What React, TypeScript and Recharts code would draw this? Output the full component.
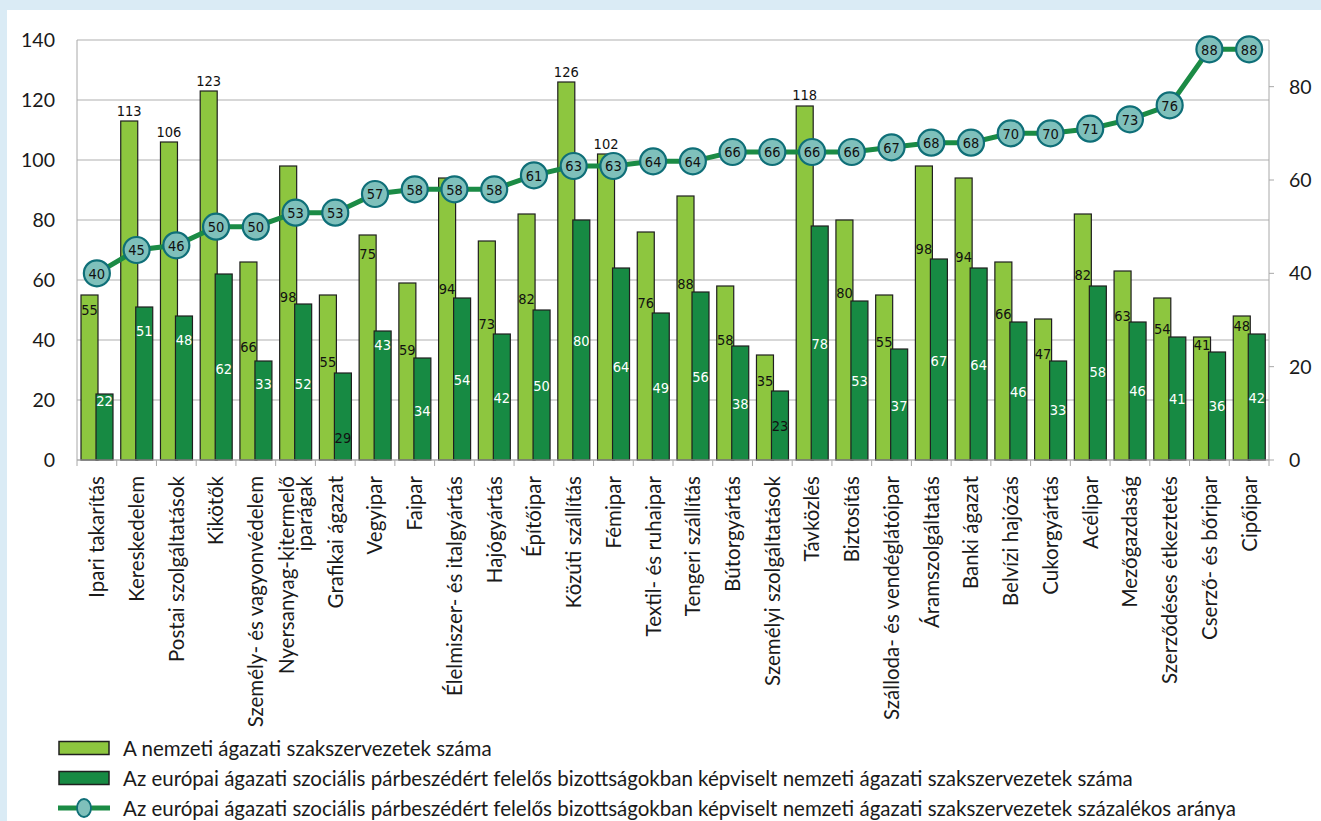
import React from "react";
import { ComposedChart, Bar, Line, XAxis, YAxis, CartesianGrid } from "recharts";

const categories = [
  "Ipari takarítás",
  "Kereskedelem",
  "Postai szolgáltatások",
  "Kikötők",
  "Személy- és vagyonvédelem",
  "Nyersanyag-kitermelő\niparágak",
  "Grafikai ágazat",
  "Vegyipar",
  "Faipar",
  "Élelmiszer- és italgyártás",
  "Hajógyártás",
  "Építőipar",
  "Közúti szállítás",
  "Fémipar",
  "Textil- és ruhaipar",
  "Tengeri szállítás",
  "Bútorgyártás",
  "Személyi szolgáltatások",
  "Távközlés",
  "Biztosítás",
  "Szálloda- és vendéglátóipar",
  "Áramszolgáltatás",
  "Banki ágazat",
  "Belvízi hajózás",
  "Cukorgyártás",
  "Acélipar",
  "Mezőgazdaság",
  "Szerződéses étkeztetés",
  "Cserző- és bőripar",
  "Cipőipar",
];

const nationalUnions = [55, 113, 106, 123, 66, 98, 55, 75, 59, 94, 73, 82, 126, 102, 76, 88, 58, 35, 118, 80, 55, 98, 94, 66, 47, 82, 63, 54, 41, 48];
const representedUnions = [22, 51, 48, 62, 33, 52, 29, 43, 34, 54, 42, 50, 80, 64, 49, 56, 38, 23, 78, 53, 37, 67, 64, 46, 33, 58, 46, 41, 36, 42];
const representedShare = [40, 45, 46, 50, 50, 53, 53, 57, 58, 58, 58, 61, 63, 63, 64, 64, 66, 66, 66, 66, 67, 68, 68, 70, 70, 71, 73, 76, 88, 88];

const leftTicks = [0, 20, 40, 60, 80, 100, 120, 140];
const rightTicks = [0, 20, 40, 60, 80];

const legendLabels = [
  "A nemzeti ágazati szakszervezetek száma",
  "Az európai ágazati szociális párbeszédért felelős bizottságokban képviselt nemzeti ágazati szakszervezetek száma",
  "Az európai ágazati szociális párbeszédért felelős bizottságokban képviselt nemzeti ágazati szakszervezetek százalékos aránya",
];

// label offsets (px from bar top, to the label's centre); negative = above the bar
const lightLabelDy = [15, -10, -10, -10, 85, 131, 67, 19, 67, 111, 83, 85, -10, -10, 71, 88, 54, 26, -11, 73, 47, 83, 79, 52, 35, 61, 45, 31, 8, 10];
const darkLabelDy = [7, 24, 24, 95, 23, 80, 65, 14, 53, 82, 64, 76, 121, 99, 75, 85, 58, 35, 118, 80, 57, 102, 97, 70, 49, 86, 69, 62, 54, 64];

const data = categories.map((name, i) => ({
  name,
  national: nationalUnions[i],
  represented: representedUnions[i],
  share: representedShare[i],
}));

const LIGHT = "#8dc63f";
const DARK = "#178a43";
const LINE = "#1b8b45";
const MARKER_FILL = "#7fc0bb";
const MARKER_STROKE = "#0f6f78";
const GRID = "#cacaca";
const AXIS = "#a8a8a8";
const FONT = "Lato, 'Open Sans', sans-serif";
const NUM_FONT = "'DejaVu Sans Condensed', 'DejaVu Sans', sans-serif";

const makeBarShape = (fill: string, values: number[], dys: number[], textColor: (i: number) => string) =>
  (props: any) => {
    const { x, y, width, height, index } = props;
    return (
      <g>
        <rect x={x} y={y} width={width} height={height} fill={fill} stroke="#1f1f1f" strokeWidth={1.2} />
        <text
          x={x + width / 2}
          y={y + dys[index]}
          dy="0.36em"
          textAnchor="middle"
          fontSize={14.5}
          fontFamily={NUM_FONT}
          fill={textColor(index)}
        >
          {values[index]}
        </text>
      </g>
    );
  };

const LightShape = makeBarShape(LIGHT, nationalUnions, lightLabelDy, () => "#111");
const DarkShape = makeBarShape(DARK, representedUnions, darkLabelDy, (i) => (representedUnions[i] < 30 && i !== 0 ? "#111" : "#fff"));

const ShareDot = (props: any) => {
  const { cx, cy, index } = props;
  return (
    <g key={`dot-${index}`}>
      <circle cx={cx} cy={cy} r={13} fill={MARKER_FILL} stroke={MARKER_STROKE} strokeWidth={2.2} />
      <text x={cx} y={cy} dy="0.36em" textAnchor="middle" fontSize={14.5} fontFamily={NUM_FONT} fill="#111">
        {representedShare[index]}
      </text>
    </g>
  );
};

const CategoryTick = (props: any) => {
  const { x, y, payload, index } = props;
  const half = payload && payload.offset ? payload.offset : 19.87;
  const axisY = y - 8;
  const lines = String(payload.value).split("\n");
  return (
    <g>
      <line x1={x - half} x2={x - half} y1={axisY} y2={axisY + 6} stroke={AXIS} />
      {index === categories.length - 1 && (
        <line x1={x + half} x2={x + half} y1={axisY} y2={axisY + 6} stroke={AXIS} />
      )}
      <text
        transform={`translate(${x},${axisY + 16}) rotate(-90)`}
        textAnchor="end"
        fontSize={20.5}
        fontFamily={FONT}
        fill="#1a1a1a"
      >
        {lines.map((l, i) => (
          <tspan key={i} x={0} y={(i - (lines.length - 1) / 2) * 18} dy="0.36em">
            {l}
          </tspan>
        ))}
      </text>
    </g>
  );
};

const LegendRow = ({ kind, label, top }: { kind: string; label: string; top: number }) => (
  <div style={{ position: "absolute", left: 51, top: top - 15, height: 30, display: "flex", alignItems: "center" }}>
    <svg width={54} height={24} style={{ display: "block" }}>
      {kind === "line" ? (
        <>
          <line x1={0} x2={52} y1={12} y2={12} stroke={LINE} strokeWidth={5} />
          <ellipse cx={26} cy={12} rx={7} ry={9} fill={MARKER_FILL} stroke={MARKER_STROKE} strokeWidth={1.8} />
        </>
      ) : (
        <rect x={1} y={5.5} width={50} height={13} fill={kind === "light" ? LIGHT : DARK} stroke="#1f1f1f" strokeWidth={1.5} />
      )}
    </svg>
    <span style={{ marginLeft: 11, fontFamily: FONT, fontSize: 20.5, color: "#1a1a1a", whiteSpace: "nowrap" }}>{label}</span>
  </div>
);

export default function App() {
  return (
    <div style={{ position: "absolute", left: 0, top: 0, width: 1321, height: 821, background: "#daebf5", overflow: "hidden" }}>
      <div style={{ position: "absolute", left: 7, top: 10, width: 1314, height: 811, background: "#ffffff" }}>
        <ComposedChart
          width={1314}
          height={720}
          data={data}
          margin={{ top: 30, right: 0, bottom: 0, left: 0 }}
          barGap={-2}
        >
          <CartesianGrid yAxisId="left" vertical={false} stroke={GRID} strokeWidth={1.3} />
          <XAxis
            dataKey="name"
            interval={0}
            height={270}
            tickLine={false}
            axisLine={{ stroke: AXIS }}
            tick={<CategoryTick />}
          />
          <YAxis
            yAxisId="left"
            width={70}
            domain={[0, 140]}
            ticks={leftTicks}
            tickLine={false}
            tickMargin={16}
            axisLine={{ stroke: AXIS }}
            tick={{ fontSize: 19.5, fontFamily: FONT, fill: "#1a1a1a" }}
          />
          <YAxis
            yAxisId="right"
            orientation="right"
            width={52}
            domain={[0, 90]}
            ticks={rightTicks}
            tickSize={5}
            tickMargin={15}
            tickLine={{ stroke: AXIS }}
            axisLine={{ stroke: AXIS }}
            tick={{ fontSize: 19.5, fontFamily: FONT, fill: "#1a1a1a" }}
          />
          <Bar yAxisId="left" dataKey="national" barSize={17} fill={LIGHT} shape={LightShape} isAnimationActive={false} />
          <Bar yAxisId="left" dataKey="represented" barSize={17} fill={DARK} shape={DarkShape} isAnimationActive={false} />
          <Line
            yAxisId="right"
            dataKey="share"
            type="linear"
            stroke={LINE}
            strokeWidth={5}
            dot={ShareDot}
            activeDot={false}
            isAnimationActive={false}
          />
        </ComposedChart>
        <LegendRow kind="light" label={legendLabels[0]} top={738} />
        <LegendRow kind="dark" label={legendLabels[1]} top={768} />
        <LegendRow kind="line" label={legendLabels[2]} top={798} />
      </div>
    </div>
  );
}
